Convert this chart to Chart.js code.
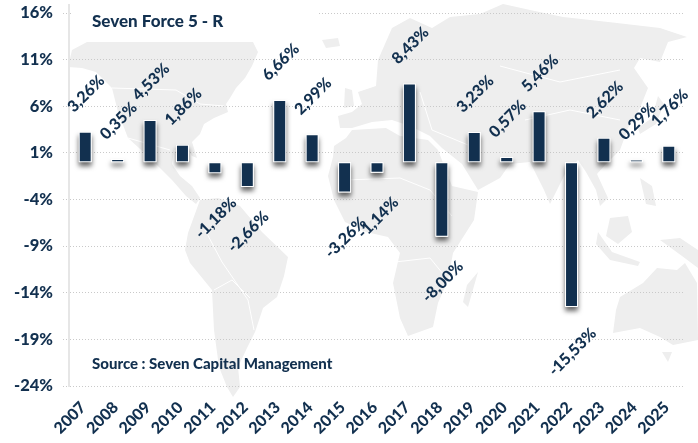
<!DOCTYPE html>
<html>
<head>
<meta charset="utf-8">
<title>Seven Force 5 - R</title>
<script src="https://cdn.jsdelivr.net/npm/chart.js@4"></script>
<style>
  html, body { margin: 0; padding: 0; background: #ffffff; }
  #wrap { width: 698px; height: 443px; }
</style>
</head>
<body>
<div id="wrap"><canvas id="grafico" width="698" height="443"></canvas></div>
<script>
// data
const years = ['2007','2008','2009','2010','2011','2012','2013','2014','2015','2016','2017','2018','2019','2020','2021','2022','2023','2024','2025'];
const returns = [3.26, 0.35, 4.53, 1.86, -1.18, -2.66, 6.66, 2.99, -3.26, -1.14, 8.43, -8.00, 3.23, 0.57, 5.46, -15.53, 2.62, 0.29, 1.76];

const NAVY = '#12304f';
const FONT = 'Lato, "Open Sans", sans-serif';

// background world map, rough outline in page pixels (decoration only)
const landShapes = [
  [[68,67],[72,50],[87,42],[253,42],[258,52],[252,66],[245,78],[236,88],[230,98],[226,104],[228,112],[214,118],[204,124],[200,134],[192,142],[197,158],[192,156],[186,147],[174,150],[172,164],[180,176],[192,186],[200,198],[196,204],[186,196],[172,180],[150,158],[128,138],[118,112],[112,88],[96,72],[82,68]],
  [[200,200],[218,198],[240,206],[262,232],[288,257],[284,276],[277,297],[263,308],[255,332],[247,348],[238,367],[240,387],[233,397],[227,387],[219,367],[214,330],[212,290],[190,263],[185,250],[188,233]],
  [[333,157],[334,146],[346,138],[352,130],[386,128],[400,136],[428,140],[438,150],[452,186],[478,192],[474,220],[453,253],[448,280],[438,303],[433,327],[408,336],[400,318],[393,283],[400,253],[388,237],[366,232],[345,222],[334,200],[328,176]],
  [[340,128],[338,116],[352,112],[362,104],[358,92],[376,86],[378,60],[392,28],[410,18],[432,28],[450,17],[480,14],[503,4],[530,10],[563,17],[617,23],[660,28],[687,37],[668,42],[660,62],[640,58],[634,68],[648,88],[640,108],[628,128],[620,150],[606,164],[597,174],[608,198],[600,206],[596,190],[586,172],[578,160],[566,172],[550,204],[544,190],[530,162],[510,164],[500,178],[478,190],[462,164],[442,148],[430,136],[410,126],[392,120],[372,122],[352,128]],
  [[345,88],[352,90],[354,106],[344,108]],
  [[322,40],[338,38],[340,46],[326,48]],
  [[478,272],[468,307],[463,302],[467,285]],
  [[658,96],[664,104],[656,124],[640,134],[638,128],[652,118]],
  [[598,232],[612,252],[640,262],[638,266],[610,260],[596,244]],
  [[610,218],[628,216],[632,232],[618,244],[606,236]],
  [[640,178],[652,186],[656,206],[646,204]],
  [[660,240],[680,238],[698,250],[698,268],[682,256]],
  [[613,333],[616,310],[620,297],[643,283],[657,268],[677,270],[685,263],[697,283],[698,340],[673,345],[660,337],[640,328]],
  [[662,352],[672,352],[668,362]]
];
const borderLines = [
  [[112,88],[176,90],[200,104],[224,106]],
  [[128,138],[170,150]],
  [[345,180],[400,178],[430,190],[452,216]],
  [[395,262],[430,258],[448,280]],
  [[205,230],[222,262],[248,300],[254,330]],
  [[214,290],[232,280],[250,298]],
  [[420,92],[432,130],[480,150]],
  [[500,66],[560,82],[620,70]],
  [[525,120],[570,110],[620,120]]
];

// map goes under the grid lines
const mapaFondo = {
  id: 'mapaFondo',
  beforeDraw(chart) {
    const ctx = chart.ctx;
    ctx.save();
    ctx.fillStyle = '#eeeeee';
    landShapes.forEach(shape => {
      ctx.beginPath();
      shape.forEach((p, i) => i ? ctx.lineTo(p[0], p[1]) : ctx.moveTo(p[0], p[1]));
      ctx.closePath();
      ctx.fill();
    });
    ctx.strokeStyle = '#ffffff';
    ctx.lineWidth = 1;
    borderLines.forEach(line => {
      ctx.beginPath();
      line.forEach((p, i) => i ? ctx.lineTo(p[0], p[1]) : ctx.moveTo(p[0], p[1]));
      ctx.stroke();
    });
    ctx.restore();
  }
};

// title box, axis stub and the soft shadow under each bar
const detalles = {
  id: 'detalles',
  beforeDatasetsDraw(chart) {
    const ctx = chart.ctx;
    const area = chart.chartArea;
    ctx.save();
    ctx.fillStyle = '#ffffff';
    ctx.fillRect(area.left + 3, area.top - 6, 245, 12);
    ctx.strokeStyle = '#e6e6e6';
    ctx.lineWidth = 2;
    ctx.beginPath();
    ctx.moveTo(area.left, area.top - 9);
    ctx.lineTo(area.left, area.top);
    ctx.stroke();
    ctx.shadowColor = 'rgba(0,0,0,0.6)';
    ctx.shadowBlur = 5;
    ctx.shadowOffsetY = 4;
    chart.getDatasetMeta(0).data.forEach(bar => {
      const top = Math.min(bar.y, bar.base);
      ctx.fillRect(bar.x - bar.width / 2, top, bar.width, Math.abs(bar.base - bar.y));
    });
    ctx.restore();
  },
  afterDatasetsDraw(chart) {
    const ctx = chart.ctx;
    ctx.save();
    ctx.fillStyle = NAVY;
    ctx.textBaseline = 'middle';

    // value labels, rotated like the year labels
    ctx.font = '900 16px ' + FONT;
    ctx.textAlign = 'center';
    chart.getDatasetMeta(0).data.forEach((bar, i) => {
      const v = returns[i];
      const txt = v.toFixed(2).replace('.', ',') + '%';
      const dy = v >= 0 ? -38 : 45;
      ctx.save();
      ctx.translate(bar.x + 1, bar.y + dy);
      ctx.rotate(-Math.PI / 4);
      ctx.fillText(txt, 0, 0);
      ctx.restore();
    });

    // text boxes inside the plot
    ctx.textAlign = 'left';
    ctx.font = '900 17px ' + FONT;
    ctx.fillText('Seven Force 5 - R', 92, 22);
    ctx.font = '900 15px ' + FONT;
    ctx.fillText('Source : Seven Capital Management', 92, 364);
    ctx.restore();
  }
};

new Chart(document.getElementById('grafico').getContext('2d'), {
  type: 'bar',
  data: {
    labels: years,
    datasets: [{
      data: returns,
      backgroundColor: NAVY,
      borderColor: '#ffffff',
      borderWidth: 1,
      borderSkipped: false,
      barPercentage: 0.4,
      categoryPercentage: 1
    }]
  },
  plugins: [mapaFondo, detalles],
  options: {
    responsive: false,
    animation: false,
    events: [],
    layout: { padding: { top: 13, right: 13, left: 0, bottom: 0 } },
    plugins: { legend: { display: false }, tooltip: { enabled: false }, title: { display: false } },
    scales: {
      x: {
        grid: { display: false },
        border: { display: false },
        afterFit(scale) { scale.height = 57; },
        ticks: {
          color: NAVY,
          font: { family: FONT, size: 16, weight: '900' },
          minRotation: 45,
          maxRotation: 45,
          autoSkip: false,
          padding: 4,
          labelOffset: -2
        }
      },
      y: {
        min: -24,
        max: 16,
        afterFit(scale) { scale.width = 69; scale.paddingTop = 0; scale.paddingBottom = 0; },
        grid: { color: '#c9c9c9', lineWidth: 1, tickLength: 6, tickBorderDash: [1, 2], tickColor: '#c9c9c9' },
        border: { color: '#e6e6e6', width: 2, dash: [1, 2] },
        ticks: {
          stepSize: 5,
          color: NAVY,
          font: { family: FONT, size: 16.5, weight: '900' },
          padding: 10,
          callback: v => v + '%'
        }
      }
    }
  }
});
</script>
</body>
</html>
